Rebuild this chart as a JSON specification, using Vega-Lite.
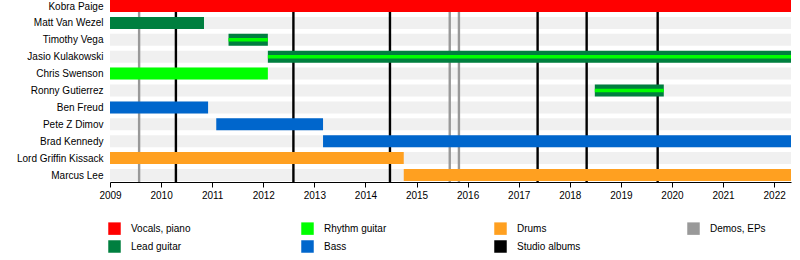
{
  "$schema": "https://vega.github.io/schema/vega-lite/v6.json",
  "autosize": {"type": "none"},
  "width": 681,
  "height": 182,
  "padding": {"left": 110, "top": 0, "right": 9, "bottom": 78},
  "config": {
    "font": "Liberation Sans",
    "view": {"stroke": null},
    "axis": {"labelFont": "Liberation Sans", "labelFontSize": 10, "labelColor": "#000000", "title": null},
    "legend": {"labelFont": "Liberation Sans"}
  },
  "datasets": {
    "members": [
      {"member": "Kobra Paige"},
      {"member": "Matt Van Wezel"},
      {"member": "Timothy Vega"},
      {"member": "Jasio Kulakowski"},
      {"member": "Chris Swenson"},
      {"member": "Ronny Gutierrez"},
      {"member": "Ben Freud"},
      {"member": "Pete Z Dimov"},
      {"member": "Brad Kennedy"},
      {"member": "Lord Griffin Kissack"},
      {"member": "Marcus Lee"}
    ],
    "periods": [
      {"member": "Kobra Paige", "start": 2009, "end": 2022.33, "role": "Vocals, piano", "part": "main"},
      {"member": "Matt Van Wezel", "start": 2009, "end": 2010.84, "role": "Lead guitar", "part": "main"},
      {"member": "Timothy Vega", "start": 2011.32, "end": 2012.09, "role": "Lead guitar", "part": "main"},
      {"member": "Timothy Vega", "start": 2011.32, "end": 2012.09, "role": "Rhythm guitar", "part": "inner"},
      {"member": "Jasio Kulakowski", "start": 2012.09, "end": 2022.33, "role": "Lead guitar", "part": "main"},
      {"member": "Jasio Kulakowski", "start": 2012.09, "end": 2022.33, "role": "Rhythm guitar", "part": "inner"},
      {"member": "Chris Swenson", "start": 2009, "end": 2012.09, "role": "Rhythm guitar", "part": "main"},
      {"member": "Ronny Gutierrez", "start": 2018.49, "end": 2019.84, "role": "Lead guitar", "part": "main"},
      {"member": "Ronny Gutierrez", "start": 2018.49, "end": 2019.84, "role": "Rhythm guitar", "part": "inner"},
      {"member": "Ben Freud", "start": 2009, "end": 2010.92, "role": "Bass", "part": "main"},
      {"member": "Pete Z Dimov", "start": 2011.08, "end": 2013.17, "role": "Bass", "part": "main"},
      {"member": "Brad Kennedy", "start": 2013.17, "end": 2022.33, "role": "Bass", "part": "main"},
      {"member": "Lord Griffin Kissack", "start": 2009, "end": 2014.75, "role": "Drums", "part": "main"},
      {"member": "Marcus Lee", "start": 2014.75, "end": 2022.33, "role": "Drums", "part": "main"}
    ],
    "events": [
      {"year": 2009.57, "kind": "Demos, EPs"},
      {"year": 2015.65, "kind": "Demos, EPs"},
      {"year": 2015.83, "kind": "Demos, EPs"},
      {"year": 2010.29, "kind": "Studio albums"},
      {"year": 2012.59, "kind": "Studio albums"},
      {"year": 2014.48, "kind": "Studio albums"},
      {"year": 2017.37, "kind": "Studio albums"},
      {"year": 2018.33, "kind": "Studio albums"},
      {"year": 2019.72, "kind": "Studio albums"}
    ]
  },
  "layer": [
    {
      "data": {"name": "members"},
      "mark": {"type": "bar", "height": 12, "color": "#f0f0f0"},
      "encoding": {
        "y": {
          "field": "member", "type": "nominal", "sort": null,
          "scale": {"type": "point", "range": [6, 175], "padding": 0},
          "axis": {"domain": false, "ticks": false, "labelPadding": 7, "labelFontSize": 10}
        },
        "x": {
          "datum": 2009, "type": "quantitative",
          "scale": {"domain": [2009, 2022.33], "nice": false, "zero": false},
          "axis": {
            "values": [2009, 2010, 2011, 2012, 2013, 2014, 2015, 2016, 2017, 2018, 2019, 2020, 2021, 2022],
            "format": "d", "grid": false, "domainColor": "#000000", "tickColor": "#000000",
            "tickSize": 5, "labelPadding": 3, "labelFontSize": 10, "labelFlush": false
          }
        },
        "x2": {"datum": 2022.33}
      }
    },
    {
      "data": {"name": "events"},
      "mark": {"type": "rule", "strokeWidth": 2.4},
      "encoding": {
        "x": {"field": "year", "type": "quantitative"},
        "stroke": {
          "field": "kind", "type": "nominal",
          "scale": {"domain": ["Studio albums", "Demos, EPs"], "range": ["#000000", "#999999"]},
          "legend": null
        }
      }
    },
    {
      "data": {"name": "periods"},
      "transform": [{"filter": "datum.part == 'main'"}],
      "mark": {"type": "bar", "height": 12},
      "encoding": {
        "y": {"field": "member", "type": "nominal", "sort": null},
        "x": {"field": "start", "type": "quantitative"},
        "x2": {"field": "end"},
        "color": {
          "field": "role", "type": "nominal",
          "scale": {
            "domain": ["Vocals, piano", "Lead guitar", "Rhythm guitar", "Bass", "Drums", "Studio albums", "Demos, EPs"],
            "range": ["#ff0000", "#007f3f", "#00ff00", "#0066cc", "#ffa020", "#000000", "#999999"]
          },
          "legend": {
            "orient": "none", "legendX": -2, "legendY": 222, "columns": 4, "gridAlign": "all",
            "columnPadding": 106, "rowPadding": 5, "symbolType": "square", "symbolSize": 156,
            "symbolStrokeWidth": 0, "labelFontSize": 10, "labelOffset": 10, "title": null,
            "padding": 0, "labelColor": "#000000"
          }
        }
      }
    },
    {
      "data": {"name": "periods"},
      "transform": [{"filter": "datum.part == 'inner'"}],
      "mark": {"type": "bar", "height": 3.5},
      "encoding": {
        "y": {"field": "member", "type": "nominal", "sort": null},
        "x": {"field": "start", "type": "quantitative"},
        "x2": {"field": "end"},
        "color": {"field": "role", "type": "nominal"}
      }
    }
  ]
}
